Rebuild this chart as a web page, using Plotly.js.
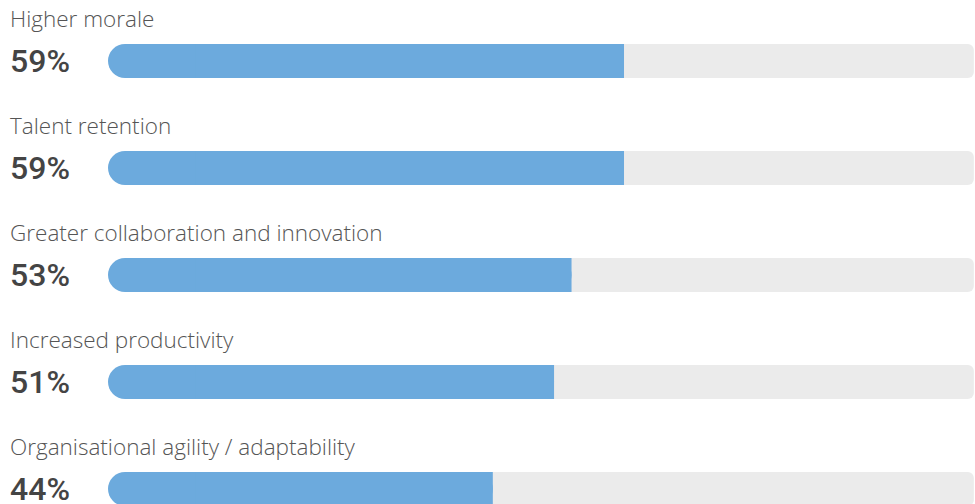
<!DOCTYPE html>
<html><head><meta charset="utf-8">
<script src="https://cdn.plot.ly/plotly-3.0.1.min.js"></script>
<style>html,body{margin:0;padding:0;background:#fff}#chart{width:975px;height:504px}</style>
</head><body><div id="chart"></div>
<script>
const categories = ["Higher morale", "Talent retention", "Greater collaboration and innovation", "Increased productivity", "Organisational agility / adaptability"];
const values = [59, 59, 53, 51, 44];
const valueLabels = ["59%", "59%", "53%", "51%", "44%"];
const fullScale = 99;

const rows = categories.map((c, i) => i);
const barWidth = 34 / 107;
const pxPerUnit = 8.746;

const track = {
  type: 'bar', orientation: 'h',
  y: rows, x: rows.map(() => fullScale - 20), base: rows.map(() => 20),
  width: barWidth,
  marker: {color: '#ebebeb', cornerradius: 6, line: {width: 0}},
  hoverinfo: 'skip', showlegend: false
};
const fillRound = {
  type: 'bar', orientation: 'h',
  y: rows, x: values.map(v => -v), base: values,
  width: barWidth,
  marker: {color: '#6caadd', cornerradius: '50%', line: {width: 0}},
  hoverinfo: 'skip', showlegend: false
};
const fillSquare = {
  type: 'bar', orientation: 'h',
  y: rows, x: values.map(v => v - 10), base: values.map(() => 10),
  width: barWidth,
  marker: {color: '#6caadd', cornerradius: 0, line: {width: 0}},
  hoverinfo: 'skip', showlegend: false
};

const annotations = [];
categories.forEach((c, i) => {
  annotations.push({
    xref: 'paper', yref: 'y', x: 0.008, y: i, xanchor: 'left', yanchor: 'middle',
    yshift: 43, text: c, showarrow: false,
    font: {family: 'Open Sans', size: 22.5, color: '#555555', weight: 300}
  });
  annotations.push({
    xref: 'paper', yref: 'y', x: 0.008, y: i, xanchor: 'left', yanchor: 'middle',
    yshift: 0, text: valueLabels[i], showarrow: false,
    font: {family: 'Roboto', size: 32, color: '#444444', weight: 500}
  });
});

const layout = {
  width: 975, height: 504,
  margin: {l: 0, r: 0, t: 0, b: 0},
  paper_bgcolor: '#ffffff', plot_bgcolor: '#ffffff',
  barmode: 'overlay',
  xaxis: {range: [-108 / pxPerUnit, (975 - 108) / pxPerUnit], visible: false, fixedrange: true},
  yaxis: {range: [443 / 107, -61 / 107], visible: false, fixedrange: true},
  annotations: annotations,
  showlegend: false
};

Plotly.newPlot('chart', [track, fillRound, fillSquare], layout, {displayModeBar: false, staticPlot: true});
</script></body></html>
